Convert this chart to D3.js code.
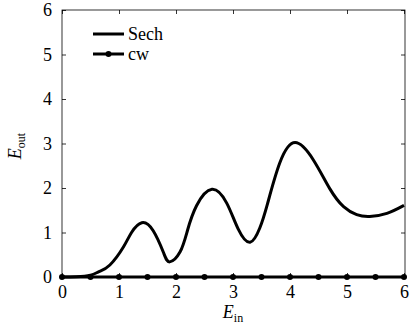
<!DOCTYPE html>
<html lang="en">
  <head>
    <meta charset="utf-8">
    <title>Eout vs Ein</title>
    <script src="https://d3js.org/d3.v7.min.js"></script>
    <style>
      body { margin: 0; background: #fff; }
      svg text { font-family: "Liberation Serif", "DejaVu Serif", serif; fill: #000; }
      .axis text { font-size: 18px; }
      .axis line { stroke: #000; stroke-width: 0.8; }
    </style>
  </head>
  <body>
    <script>
    // data
    let sechX = [0, 0.25, 0.5, 0.65, 0.84, 1.08, 1.22, 1.4, 1.6, 1.78, 1.89, 2.07, 2.2, 2.36, 2.63, 2.89, 3.09, 3.3, 3.47, 3.6, 3.82, 4.09, 4.41, 4.7, 4.94, 5.17, 5.4, 5.7, 6.0];
    let sechY = [0, 0.005, 0.04, 0.12, 0.27, 0.68, 1.0, 1.22, 1.04, 0.55, 0.34, 0.56, 1.04, 1.6, 1.97, 1.66, 1.08, 0.78, 1.1, 1.62, 2.56, 3.02, 2.63, 1.98, 1.58, 1.4, 1.36, 1.43, 1.61];
    let cwX = [0, 0.5, 1, 1.5, 2, 2.5, 3, 3.5, 4, 4.5, 5, 5.5, 6];
    let cwY = [0, 0, 0, 0, 0, 0, 0, 0, 0, 0, 0, 0, 0];
    let xTicks = [0, 1, 2, 3, 4, 5, 6];
    let yTicks = [0, 1, 2, 3, 4, 5, 6];
    let legendNames = ["Sech", "cw"];

    let w = 410, h = 334;
    let padL = 62, padR = 405, padT = 10, padB = 277;

    let svg = d3.select("body").append("svg")
      .attr("width", w).attr("height", h);

    let xScale = d3.scaleLinear().domain([0, 6]).range([padL, padR - 1]);
    let yScale = d3.scaleLinear().domain([0, 6]).range([padB, padT]);

    // frame
    svg.append("rect")
      .attr("x", padL).attr("y", padT)
      .attr("width", padR - padL).attr("height", padB - padT)
      .attr("fill", "none").attr("stroke", "#000").attr("stroke-width", 0.8);

    // axes with inward ticks
    let xAxis = d3.axisBottom(xScale).tickValues(xTicks).tickSize(-4).tickPadding(8).tickFormat(d3.format("d"));
    svg.append("g").attr("class", "axis")
      .attr("transform", "translate(0," + padB + ")")
      .call(xAxis);
    svg.append("g").attr("class", "axis")
      .attr("transform", "translate(0," + padT + ")")
      .call(d3.axisTop(xScale).tickValues(xTicks).tickSize(-4).tickFormat(""));

    let yAxis = d3.axisLeft(yScale).tickValues(yTicks).tickSize(-4).tickPadding(10).tickFormat(d3.format("d"));
    svg.append("g").attr("class", "axis")
      .attr("transform", "translate(" + padL + ",0)")
      .call(yAxis);
    svg.append("g").attr("class", "axis")
      .attr("transform", "translate(" + padR + ",0)")
      .call(d3.axisRight(yScale).tickValues(yTicks).tickSize(-4).tickFormat(""));

    svg.selectAll(".axis .domain").remove();
    svg.selectAll(".axis").attr("font-family", null).attr("font-size", null);

    // lines
    let line = d3.line()
      .x(d => xScale(d[0]))
      .y(d => yScale(d[1]))
      .curve(d3.curveNatural);

    let sech = sechX.map((x, i) => [x, sechY[i]]);
    let cw = cwX.map((x, i) => [x, cwY[i]]);

    svg.append("path")
      .datum(sech)
      .attr("d", line)
      .attr("fill", "none").attr("stroke", "#000").attr("stroke-width", 3);

    svg.append("path")
      .datum(cw)
      .attr("d", line)
      .attr("fill", "none").attr("stroke", "#000").attr("stroke-width", 3);

    svg.selectAll("circle.cw")
      .data(cw)
      .enter()
      .append("circle")
      .attr("class", "cw")
      .attr("cx", d => xScale(d[0]))
      .attr("cy", d => yScale(d[1]))
      .attr("r", 3)
      .attr("fill", "#000");

    // legend
    let legend = svg.append("g").attr("transform", "translate(93,34)");
    legendNames.forEach(function (name, i) {
      let g = legend.append("g").attr("transform", "translate(0," + (i * 20) + ")");
      g.append("line")
        .attr("x1", 0).attr("x2", 31).attr("y1", 0).attr("y2", 0)
        .attr("stroke", "#000").attr("stroke-width", 3);
      if (i == 1) {
        g.append("circle").attr("cx", 15.5).attr("cy", 0).attr("r", 3).attr("fill", "#000");
      }
      g.append("text")
        .attr("x", 35).attr("y", 6)
        .attr("font-size", "18px")
        .text(name);
    });

    // axis titles
    let xLabel = svg.append("text")
      .attr("x", 233).attr("y", 318)
      .attr("text-anchor", "middle")
      .attr("font-size", "18px");
    xLabel.append("tspan").attr("font-style", "italic").text("E");
    xLabel.append("tspan").attr("font-size", "12px").attr("dy", 4).text("in");

    let yLabel = svg.append("text")
      .attr("transform", "translate(21,146) rotate(-90)")
      .attr("text-anchor", "middle")
      .attr("font-size", "18px");
    yLabel.append("tspan").attr("font-style", "italic").text("E");
    yLabel.append("tspan").attr("font-size", "12px").attr("dy", 4).text("out");
    </script>
  </body>
</html>
